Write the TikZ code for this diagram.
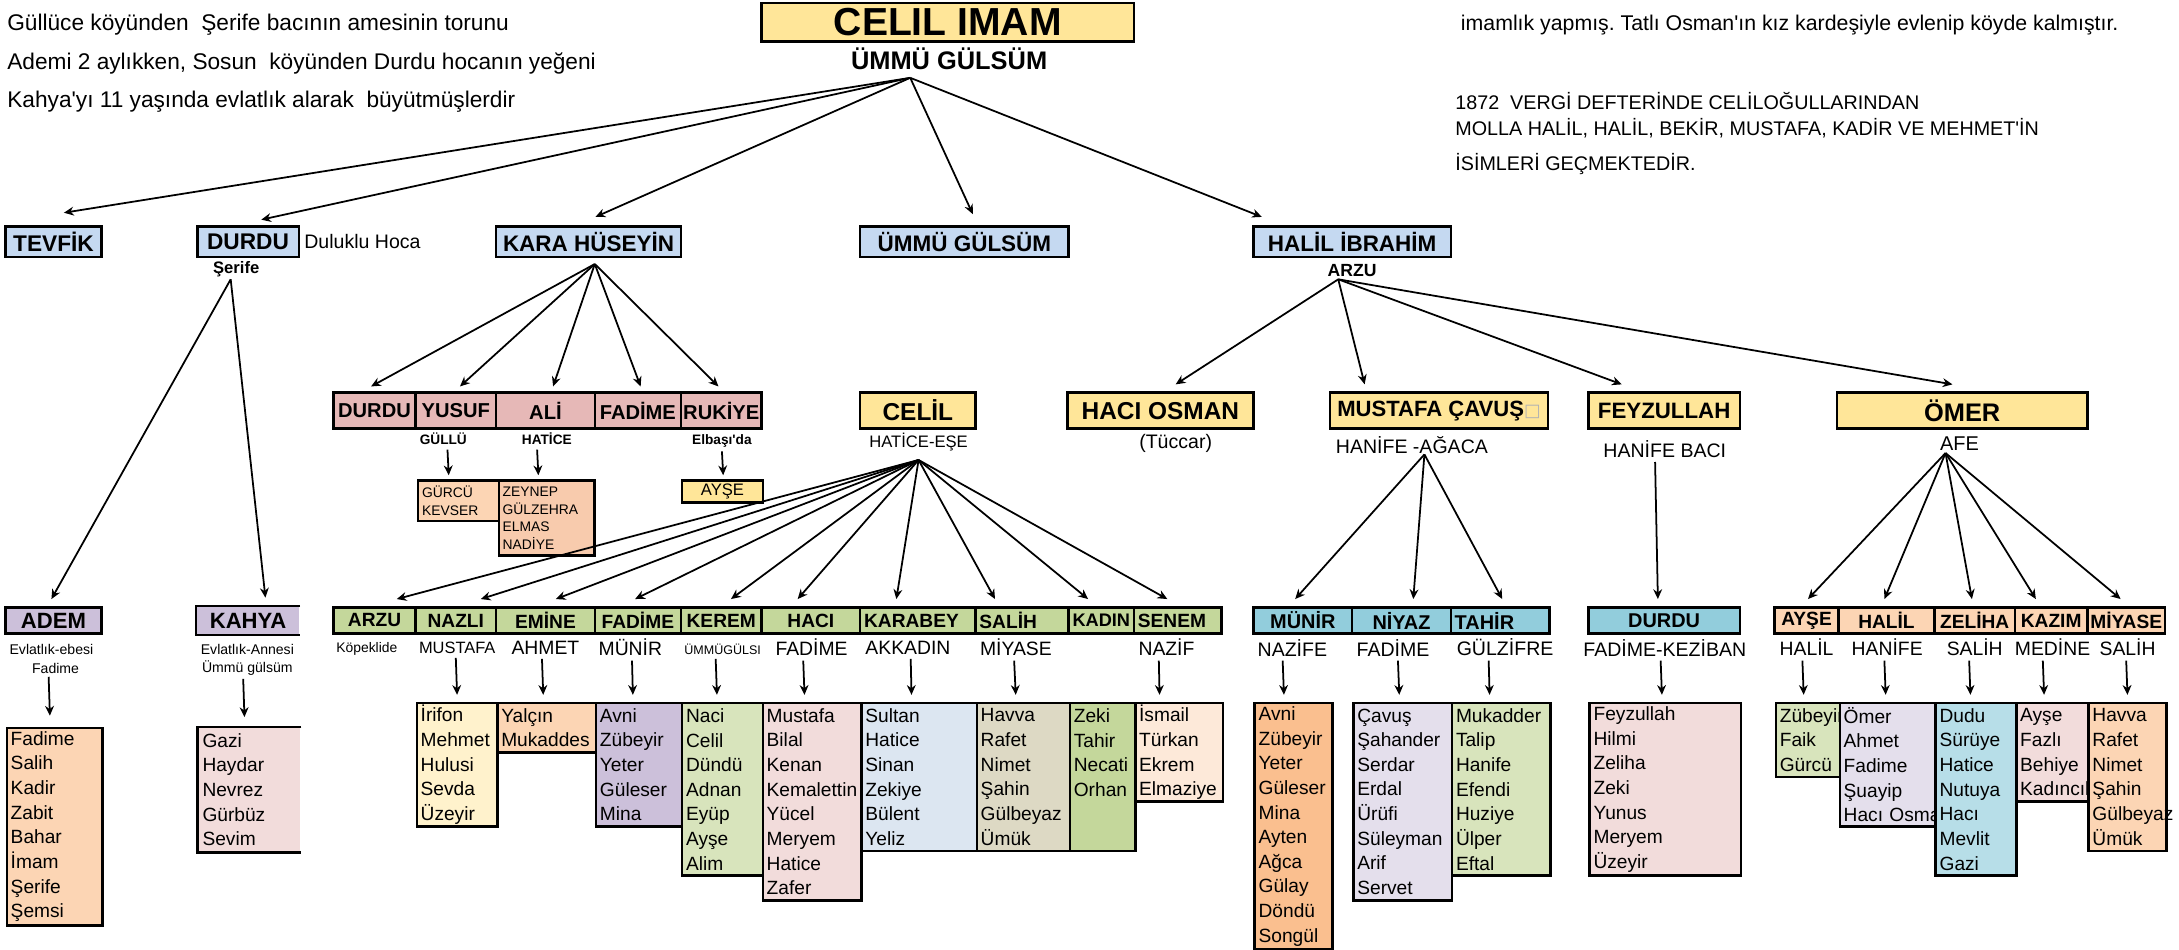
\documentclass[tikz,border=0pt]{standalone}
\usepackage{fontspec}
\setmainfont{Liberation Sans}
\newfontfamily\symfont{DejaVu Sans}
\usepackage{tikz}
\usetikzlibrary{
    arrows.meta,
    positioning,
    calc
}
\frenchspacing
\definecolor{famyellow}{HTML}{FFE699}
\definecolor{famblue}{HTML}{C5D9F1}
\definecolor{fampink}{HTML}{E6B8B7}
\definecolor{famlilac}{HTML}{CCC0DA}
\definecolor{famgreen}{HTML}{C4D79B}
\definecolor{famteal}{HTML}{92CDDC}
\definecolor{fampeach}{HTML}{FCD5B4}
\definecolor{famsalmon}{HTML}{F8CBAD}
\definecolor{famorange}{HTML}{FABF8F}
\definecolor{famcream}{HTML}{FFF2CC}
\definecolor{famrose}{HTML}{F2DCDB}
\definecolor{famsage}{HTML}{D8E4BC}
\definecolor{famsky}{HTML}{DCE6F1}
\definecolor{famsand}{HTML}{DDD9C4}
\definecolor{famblush}{HTML}{FDE9D9}
\definecolor{famlav}{HTML}{E4DFEC}
\definecolor{famaqua}{HTML}{B7DEE8}
\def\px{0.025cm}
\newcommand{\fsz}[1]{\fontsize{#1}{#1}\selectfont}
\newcommand{\listfont}{\fontsize{9.8}{12.62}\selectfont}
\tikzset{
    % sizes given in picture pixels
    cw/.style={minimum width={#1*\px}},
    ch/.style={minimum height={#1*\px}},
    tw/.code={\pgfmathsetlengthmacro\famtw{#1*\px-4pt}\tikzset{text width/.expanded=\famtw}},
    % one person
    personbox/.style={
        rectangle,
        draw=black,
        line width=1.3pt,
        fill=#1,
        inner sep=1pt,
        align=center,
        font=\bfseries\fsz{10}
    },
    personbox/.default=famblue,
    topbox/.style={personbox, ch=22, font=\bfseries\fsz{11.6}},
    khbox/.style={personbox=fampink, ch=26, font=\bfseries\fsz{10.3}},
    yellowbox/.style={personbox=famyellow, ch=26, font=\bfseries\fsz{12.5}},
    kidbox/.style={personbox=#1, ch=19, font=\bfseries\fsz{9.8}},
    leftbox/.style={tw=#1, inner xsep=2pt, align=left},
    % list of grandchildren
    listbox/.style={
        rectangle,
        draw=black,
        line width=1.3pt,
        fill=#1,
        anchor=north west,
        inner xsep=2pt,
        inner ysep=0pt,
        align=left,
        font=\listfont
    },
    listbox/.default=famrose,
    smallbox/.style={listbox=#1, font=\fontsize{7.1}{9}\selectfont},
    % text under a box
    spouse/.style={inner sep=0pt, font=\fsz{9.9}},
    tiny/.style={inner sep=0pt, font=\fsz{7.2}},
    note/.style={anchor=west, inner sep=0pt, font=\fsz{11.6}},
    famarrow/.style={-{Stealth[length=5pt,width=4.5pt]}, line width=0.9pt}
}

\begin{document}
\begin{tikzpicture}[x=\px, y=-\px]
\useasboundingbox (0,0) rectangle (1568,683);

% header and notes
\node[personbox=famyellow, cw=268, ch=28, font=\bfseries\fsz{20}] (celilimam) at (682,16) {CELIL IMAM};
\node[inner sep=0pt, font=\bfseries\fsz{13}] (ummu0) at (683,42) {ÜMMÜ GÜLSÜM};
\coordinate (hub0) at (655,56);

\node[note] (notel1) at (5,18) {Güllüce köyünden~ Şerife bacının amesinin torunu};
\node[note] (notel2) at (5,46) {Ademi 2 aylıkken, Sosun~ köyünden Durdu hocanın yeğeni};
\node[note] (notel3) at (5,73) {Kahya\textquotesingle yı 11 yaşında evlatlık alarak~ büyütmüşlerdir};
\node[note, font=\fsz{10.9}] (noter1) at (1051,18) {imamlık yapmış. Tatlı Osman\textquotesingle ın kız kardeşiyle evlenip köyde kalmıştır.};
\node[note, font=\fsz{10.1}] (noter2) at (1047,73) {1872~ VERGİ DEFTERİNDE CELİLOĞULLARINDAN};
\node[note, font=\fsz{10.1}] (noter3) at (1047,92) {MOLLA HALİL, HALİL, BEKİR, MUSTAFA, KADİR VE MEHMET\textquotesingle İN};
\node[note, font=\fsz{10.1}] (noter4) at (1047,118) {İSİMLERİ GEÇMEKTEDİR.};

% children of Celil Imam
\node[topbox, cw=69] (tevfik) at (38.5,174) {TEVFİK};
\node[topbox, cw=73] (durdu1) at (178.5,174) {DURDU};
\node[right=2pt of durdu1, inner sep=0pt, font=\fsz{10}] (duluklu) {Duluklu Hoca};
\node[inner sep=0pt, font=\bfseries\fsz{8.5}] (serife) at (170,194) {Şerife};
\node[topbox, cw=133, font=\bfseries\fsz{11.5}] (karahuseyin) at (423.5,174) {KARA HÜSEYİN};
\node[topbox, cw=150, font=\bfseries\fsz{11.5}] (ummu1) at (694,174) {ÜMMÜ GÜLSÜM};
\node[topbox, cw=142, font=\bfseries\fsz{11.5}] (halil) at (973,174) {HALİL İBRAHİM};
\node[inner sep=0pt, font=\bfseries\fsz{9}] (arzu0) at (973,195) {ARZU};
\coordinate (hub1) at (166,201);
\coordinate (hub2) at (428,190);
\coordinate (hub4) at (963,201);

% Kara Huseyin
\node[khbox, cw=59] (khdurdu) at (269.5,295.5) {DURDU};
\node[khbox, cw=58] (khyusuf) at (328,295.5) {YUSUF};
\node[khbox, cw=71] (khali) at (392.5,295.5) {ALİ};
\node[khbox, cw=62] (khfadime) at (459,295.5) {FADİME};
\node[khbox, cw=58] (khrukiye) at (519,295.5) {RUKİYE};
\node[inner sep=0pt, font=\bfseries\fsz{7}] (gullu) at (319,316) {GÜLLÜ};
\node[inner sep=0pt, font=\bfseries\fsz{7}] (hatice1) at (393.5,316) {HATİCE};
\node[inner sep=0pt, font=\bfseries\fsz{7}] (elbasi) at (519.5,317) {Elbaşı\textquotesingle da};
\node[smallbox=fampeach, tw=58, ch=29] (gurcu) at (300,345) {GÜRCÜ\\KEVSER};
\node[smallbox=famsalmon, tw=69, ch=54] (zeynep) at (358,345) {ZEYNEP\\GÜLZEHRA\\ELMAS\\NADİYE};
\node[personbox=famyellow, cw=58, ch=15.5, inner sep=0pt, anchor=north west, font=\fsz{8.5}] (ayse1) at (490,345) {AYŞE};

% second row, right part
\node[yellowbox, cw=83] (celil) at (660.5,295.5) {CELİL};
\node[inner sep=0pt, font=\fsz{8.5}] (hatice2) at (661,318) {HATİCE-EŞE};
\coordinate (hub3) at (661,331);
\node[yellowbox, cw=134] (hacios) at (835,295.5) {HACI OSMAN};
\node[spouse, font=\fsz{10}] (tuccar) at (846,319) {(Tüccar)};
\node[yellowbox, cw=157, font=\bfseries\fsz{11.3}] (mustafa) at (1035.5,295.5) {MUSTAFA ÇAVUŞ{\symfont\mdseries\fsz{9}\color{black!30}□}};
\node[spouse, font=\fsz{10}] (hanife1) at (1016,320) {HANİFE -AĞACA};
\coordinate (hub5) at (1025,327);
\node[yellowbox, cw=109, font=\bfseries\fsz{11.4}] (feyzullah) at (1197.5,295.5) {FEYZULLAH};
\node[spouse, font=\fsz{10}] (hanife2) at (1198,323) {HANİFE BACI};
\node[yellowbox, cw=180, font=\bfseries\fsz{13}] (omer) at (1412,295.5) {ÖMER};
\node[spouse, font=\fsz{10.2}] (afe) at (1410,319) {AFE};
\coordinate (hub6) at (1400,326);

% Adem and Kahya
\node[kidbox=famlilac, cw=69, font=\bfseries\fsz{11.3}] (adem) at (38.5,446.5) {ADEM};
\node[kidbox=famlilac, cw=73, draw=none, font=\bfseries\fsz{11.3}] (kahya) at (178.5,446.5) {KAHYA};
\draw[line width=1.3pt] (kahya.north east) -- (kahya.north west) -- (kahya.south west) -- (kahya.south east);
\node[tiny] (ebesi) at (37,467) {Evlatlık-ebesi};
\node[tiny] (fadime0) at (40,481) {Fadime};
\node[tiny] (annesi) at (178,467) {Evlatlık-Annesi};
\node[tiny] (ummu2) at (178,481) {Ümmü gülsüm};
\node[listbox=fampeach, tw=69, ch=142] (ademl) at (4,523) {Fadime\\Salih\\Kadir\\Zabit\\Bahar\\İmam\\Şerife\\Şemsi};
\node[listbox=famrose, tw=73, ch=88.75, draw=none] (kahyal) at (142,523) {Gazi\\Haydar\\Nevrez\\Gürbüz\\Sevim};
\draw[line width=1.3pt] (kahyal.north east) -- (kahyal.north west) -- (kahyal.south west) -- (kahyal.south east);

% children of Celil
\node[kidbox=famgreen, cw=59] (arzu1) at (269.5,446.5) {ARZU};
\node[kidbox=famgreen, cw=58] (nazli) at (328,446.5) {NAZLI};
\node[kidbox=famgreen, cw=71] (emine) at (392.5,446.5) {EMİNE};
\node[kidbox=famgreen, cw=62] (fadime1) at (459,446.5) {FADİME};
\node[kidbox=famgreen, cw=58] (kerem) at (519,446.5) {KEREM};
\node[kidbox=famgreen, cw=71] (haci) at (583.5,446.5) {HACI};
\node[kidbox=famgreen, leftbox=83] (karabey) at (660.5,446.5) {KARABEY};
\node[kidbox=famgreen, leftbox=67] (salih) at (735.5,446.5) {SALİH};
\node[kidbox=famgreen, leftbox=47, font=\bfseries\fsz{9.3}] (kadin) at (792.5,446.5) {KADIN};
\node[kidbox=famgreen, leftbox=63] (senem) at (847.5,446.5) {SENEM};

\node[spouse, font=\fsz{7.1}] (kopek) at (264,467) {Köpeklide};
\node[spouse, font=\fsz{8.4}] (mustafa2) at (329,466) {MUSTAFA};
\node[spouse] (ahmet) at (392.5,466) {AHMET};
\node[spouse, anchor=west] (munir2) at (430.5,466) {MÜNİR};
\node[spouse, font=\fsz{6.4}] (ummugulsi) at (520,467) {ÜMMÜGÜLSI};
\node[spouse] (fadime2) at (584,466) {FADİME};
\node[spouse, anchor=west] (akkadin) at (622.5,466) {AKKADIN};
\node[spouse, anchor=west] (miyase1) at (705,466) {MİYASE};
\node[spouse, anchor=west] (nazif) at (819,466) {NAZİF};

\node[listbox=famcream, tw=58, ch=88.75] (nazlil) at (299,505) {İrifon\\Mehmet\\Hulusi\\Sevda\\Üzeyir};
\node[listbox=fampeach, tw=71, ch=35.5] (eminel) at (357,505) {Yalçın\\Mukaddes};
\node[listbox=famlilac, tw=62, ch=88.75] (fadimel) at (428,505) {Avni\\Zübeyir\\Yeter\\Güleser\\Mina};
\node[listbox=famsage, tw=58, ch=124.25] (kereml) at (490,505) {Naci\\Celil\\Dündü\\Adnan\\Eyüp\\Ayşe\\Alim};
\node[listbox=famrose, tw=71, ch=142] (hacil) at (548,505) {Mustafa\\Bilal\\Kenan\\Kemalettin\\Yücel\\Meryem\\Hatice\\Zafer};
\node[listbox=famsky, tw=83, ch=106.5] (karabeyl) at (619,505) {Sultan\\Hatice\\Sinan\\Zekiye\\Bülent\\Yeliz};
\node[listbox=famsand, tw=67, ch=106.5] (salihl) at (702,505) {Havva\\Rafet\\Nimet\\Şahin\\Gülbeyaz\\Ümük};
\node[listbox=famgreen, tw=47, ch=106.5] (kadinl) at (769,505) {Zeki\\Tahir\\Necati\\Orhan\\~\\~};
\node[listbox=famblush, tw=63, ch=71] (seneml) at (816,505) {İsmail\\Türkan\\Ekrem\\Elmaziye};

% children of Mustafa Cavus and Feyzullah
\node[kidbox=famteal, cw=71, font=\bfseries\fsz{10.2}] (munir) at (937.5,446.5) {MÜNİR};
\node[kidbox=famteal, cw=71, font=\bfseries\fsz{10.2}] (niyaz) at (1008.5,446.5) {NİYAZ};
\node[kidbox=famteal, leftbox=71, font=\bfseries\fsz{10.2}] (tahir) at (1079.5,446.5) {TAHİR};
\node[kidbox=famteal, cw=109, font=\bfseries\fsz{10.2}] (durdu2) at (1197.5,446.5) {DURDU};
\node[spouse, font=\fsz{10}] (nazife) at (930,466) {NAZİFE};
\node[spouse, font=\fsz{10}, anchor=west] (fadime3) at (976,466) {FADİME};
\node[spouse, font=\fsz{10}, anchor=west] (gulzifre) at (1048,466) {GÜLZİFRE};
\node[spouse, font=\fsz{10}] (fadkez) at (1198,466) {FADİME-KEZİBAN};
\node[listbox=famorange, tw=56, ch=177.5] (munirl) at (902,505) {Avni\\Zübeyir\\Yeter\\Güleser\\Mina\\Ayten\\Ağca\\Gülay\\Döndü\\Songül};
\node[listbox=famlav, tw=71, ch=142] (niyazl) at (973,505) {Çavuş\\Şahander\\Serdar\\Erdal\\Ürüfi\\Süleyman\\Arif\\Servet};
\node[listbox=famsage, tw=71, ch=124.25] (tahirl) at (1044,505) {Mukadder\\Talip\\Hanife\\Efendi\\Huziye\\Ülper\\Eftal};
\node[listbox=famrose, tw=109, ch=124.25] (durdu2l) at (1143,505) {Feyzullah\\Hilmi\\Zeliha\\Zeki\\Yunus\\Meryem\\Üzeyir};

% children of Omer
\node[kidbox=fampeach, cw=46] (ayse2) at (1300,446.5) {AYŞE};
\node[kidbox=fampeach, cw=69] (halil2) at (1357.5,446.5) {HALİL};
\node[kidbox=fampeach, cw=58] (zeliha) at (1421,446.5) {ZELİHA};
\node[kidbox=fampeach, cw=52] (kazim) at (1476,446.5) {KAZIM};
\node[kidbox=fampeach, cw=56] (miyase2) at (1530,446.5) {MİYASE};
\node[spouse] (halil3) at (1300,466) {HALİL};
\node[spouse] (hanife3) at (1358,466) {HANİFE};
\node[spouse] (salih2) at (1421,466) {SALİH};
\node[spouse] (medine) at (1477,466) {MEDİNE};
\node[spouse] (salih3) at (1531,466) {SALİH};
\node[listbox=famsage, tw=46, ch=53.25] (aysel) at (1277,505) {Zübeyir\\Faik\\Gürcü};
\node[listbox=famlav, tw=69, ch=88.75] (halill) at (1323,505) {Ömer\\Ahmet\\Fadime\\Şuayip\\\mbox{Hacı Osma}};
\node[listbox=famaqua, tw=58, ch=124.25] (zelihal) at (1392,505) {Dudu\\Sürüye\\Hatice\\Nutuya\\Hacı\\Mevlit\\Gazi};
\node[listbox=famrose, tw=52, ch=71] (kaziml) at (1450,505) {Ayşe\\Fazlı\\Behiye\\Kadıncık};
\node[listbox=fampeach, tw=56, ch=106.5] (miyasel) at (1502,505) {Havva\\Rafet\\Nimet\\Şahin\\Gülbeyaz\\Ümük};

% connectors
\foreach \kid/\dx/\dy in {tevfik/7.5/-9, durdu1/9.5/-4, karahuseyin/5/-6, ummu1/6/-8, halil/-65/-6}
    \draw[famarrow] (hub0) -- ($(\kid.north)+(\dx,\dy)$);
\draw[famarrow] (hub1) -- ($(adem.north)+(-1.5,-5)$);
\draw[famarrow] (hub1) -- ($(kahya.north)+(12.5,-6)$);
\foreach \kid/\dx in {khdurdu/-2.5, khyusuf/3, khali/5.5, khfadime/2, khrukiye/-2}
    \draw[famarrow] (hub2) -- ($(\kid.north)+(\dx,-3.5)$);
\draw[famarrow] ($(gullu.south)+(3,3)$) -- ($(gurcu.north)+(-7,-3)$);
\draw[famarrow] ($(hatice1.south)+(-7,3)$) -- ($(zeynep.north)+(-6,-3)$);
\draw[famarrow] ($(elbasi.south)+(0,3)$) -- ($(ayse1.north)+(0.5,-3)$);
\foreach \kid/\dx in {hacios/11, mustafa/-53.5, feyzullah/-30.5, omer/-7}
    \draw[famarrow] (hub4) -- ($(\kid.north)+(\dx,-5)$);
\foreach \kid/\dx in {arzu1/16, nazli/18, emine/7.5, fadime1/-2, kerem/7, haci/-9.5, karabey/-15.5, salih/-19.5, kadin/-9.5, senem/-7.5}
    \draw[famarrow] (hub3) -- ($(\kid.north)+(\dx,-5)$);
\foreach \kid/\dx in {munir/-5.5, niyaz/8.5, tahir/1.5}
    \draw[famarrow] (hub5) -- ($(\kid.north)+(\dx,-5)$);
\draw[famarrow] ($(hanife2.south)+(-7,3)$) -- ($(durdu2.north)+(-4.5,-5)$);
\foreach \kid/\dx in {ayse2/1, halil2/-1.5, zeliha/-2, kazim/-11, miyase2/-4}
    \draw[famarrow] (hub6) -- ($(\kid.north)+(\dx,-5)$);
\draw[famarrow] ($(fadime0.south)+(-5,2)$) -- ($(ademl.north)+(-3.5,-8)$);
\draw[famarrow] ($(ummu2.south)+(-3,2)$) -- ($(kahyal.north)+(-3.5,-7)$);
\foreach \sp/\dxa/\lst/\dxb in {mustafa2/-1/nazlil/0, ahmet/-2.5/eminel/-2.5, munir2/1.2/fadimel/-4.5,
        ummugulsi/-5/kereml/-4, fadime2/-6/hacil/-5.5, akkadin/2/karabeyl/-5.5, miyase1/-1.3/salihl/-5.5,
        nazif/-5.5/seneml/-14, nazife/-7/munirl/-7, fadime3/3.5/niyazl/-2.5, gulzifre/-11.8/tahirl/-8.5,
        fadkez/-3/durdu2l/-2.5, halil3/-3/aysel/-3, hanife3/-2/halill/-1.5, salih2/-4/zelihal/-4,
        medine/-7/kaziml/-6, salih3/-1/miyasel/0}
    \draw[famarrow] ($(\sp.south)+(\dxa,3)$) -- ($(\lst.north)+(\dxb,-5)$);
\end{tikzpicture}
\end{document}
